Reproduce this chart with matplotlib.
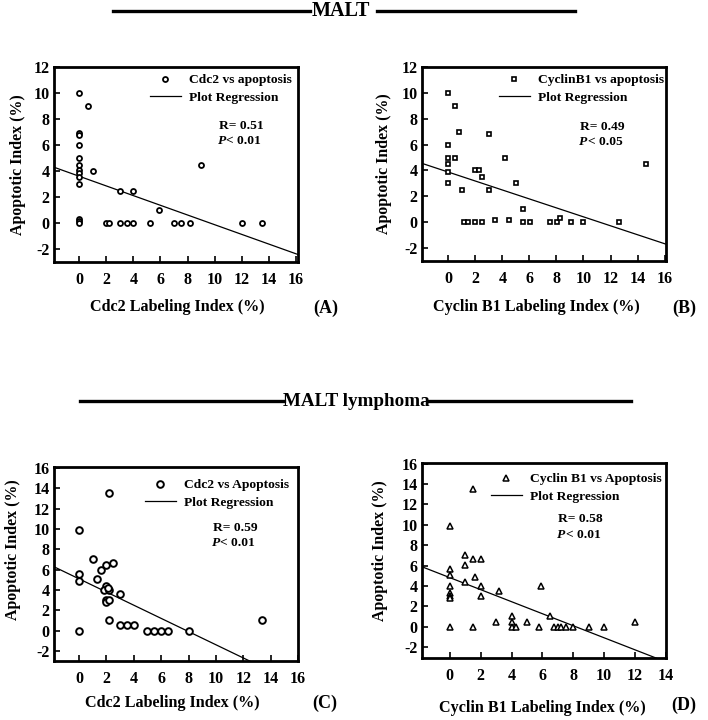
import matplotlib
matplotlib.use("Agg")
import matplotlib.pyplot as plt
from matplotlib.lines import Line2D
import numpy as np

plt.rcParams['font.family'] = ['Liberation Serif', 'DejaVu Serif']
plt.rcParams['font.weight'] = 'bold'

# ---------------- data ----------------
# (A) MALT: Cdc2 labeling index vs apoptotic index
a_x = [0, 0.63, 0, 0, 0, 0, 0, 0, 0, 0, 0, 0, 0, 0, 1.0, 3.0, 4.0, 9.0, 5.9,
       2.0, 2.2, 3.0, 3.5, 4.0, 5.2, 7.0, 7.5, 8.2, 12.0, 13.5]
a_y = [10.0, 9.0, 6.9, 6.75, 6.0, 5.0, 4.5, 4.05, 3.85, 3.55, 3.0, 0.34, 0.15, 0.0, 4.0, 2.5, 2.5, 4.5, 1.0,
       0, 0, 0, 0, 0, 0, 0, 0, 0, 0, 0]
a_reg = (3.6, -0.373)     # intercept, slope

# (B) MALT: Cyclin B1 labeling index vs apoptotic index
b_x = [0, 0.5, 0.8, 3.0, 0, 0, 0.5, 4.2, 0, 0, 2.0, 2.3, 2.5, 0, 5.0, 1.0, 3.0, 5.5, 14.6,
       1.15, 1.5, 2.0, 2.5, 3.5, 4.5, 5.55, 6.05, 7.55, 8.05, 8.25, 9.1, 10.0, 12.6]
b_y = [10.0, 9.0, 7.0, 6.8, 6.0, 5.0, 5.0, 5.0, 4.5, 3.9, 4.0, 4.0, 3.5, 3.0, 3.0, 2.5, 2.5, 1.0, 4.5,
       0, 0, 0, 0, 0.2, 0.2, 0, 0, 0, 0, 0.3, 0, 0, 0]
b_reg = (3.88, -0.3465)

# (C) MALT lymphoma: Cdc2 labeling index vs apoptotic index
c_x = [2.2, 0, 1.03, 2.0, 2.5, 1.6, 0, 0, 1.32, 2.0, 1.8, 2.2, 2.1, 3.0, 2.0, 2.0, 2.2, 2.2,
       0, 3.0, 3.5, 4.0, 5.0, 5.5, 6.0, 6.5, 8.0, 13.4]
c_y = [13.5, 9.85, 7.0, 6.5, 6.6, 6.0, 5.6, 4.85, 5.05, 4.4, 4.0, 4.0, 4.2, 3.55, 3.0, 2.8, 3.0, 1.0,
       0, 0.5, 0.5, 0.5, 0, 0, 0, 0, 0, 1.0]
c_reg = (5.09, -0.649)

# (D) MALT lymphoma: Cyclin B1 labeling index vs apoptotic index
d_x = [1.5, 0, 1.0, 1.0, 1.5, 2.0, 0, 0, 1.6, 1.0, 0, 2.0, 2.0, 0, 0, 0, 3.2, 5.9,
       3.0, 4.0, 4.0, 4.0, 4.3, 5.0, 0, 1.5, 5.8, 6.5, 6.75, 7.0, 7.2, 7.5, 8.0, 9.0, 10.0, 12.0]
d_y = [13.5, 9.85, 7.05, 6.05, 6.65, 6.6, 5.65, 5.05, 4.85, 4.4, 4.0, 4.0, 3.05, 3.3, 3.0, 2.85, 3.55, 4.0,
       0.5, 1.05, 0.5, 0, 0, 0.42, 0, 0, 0, 1.05, 0, 0, 0, 0, 0, 0, 0, 0.5]
d_reg = (4.82, -0.591)

W, H = 708, 720
fig = plt.figure(figsize=(W / 100, H / 100), dpi=100)


def fx(px):
    return px / W


def fy(py):
    return 1 - py / H


def make_axes(l, r, t, b):
    return fig.add_axes([fx(l), fy(b), (r - l) / W, (b - t) / H])


def style_axes(ax, xlim, ylim, xticks, yticks):
    ax.set_xlim(*xlim)
    ax.set_ylim(*ylim)
    ax.set_xticks(xticks)
    ax.set_yticks(yticks)
    ax.set_xticklabels([str(t) for t in xticks])
    ax.set_yticklabels([str(t) for t in yticks])
    for s in ax.spines.values():
        s.set_linewidth(2.0)
    ax.tick_params(axis='both', direction='in', length=4, width=1.2, labelsize=11.5)
    ax.tick_params(axis='x', pad=7)
    ax.tick_params(axis='y', pad=3)
    for lbl in ax.get_xticklabels() + ax.get_yticklabels():
        lbl.set_fontweight('bold')


def reg_line(ax, reg, xlim):
    xs = np.array(xlim)
    ax.plot(xs, reg[0] + reg[1] * xs, color='black', lw=0.9, label='Plot Regression')


panels = [
    dict(box=(54, 298, 67, 262), x=a_x, y=a_y, reg=a_reg, marker='o', ms=3.6, mew=1.3,
         xlim=(-1.85, 16.15), ylim=(-3, 12), xticks=list(range(0, 17, 2)), yticks=list(range(-2, 13, 2)),
         leg='Cdc2 vs apoptosis', leg_at=(150, 74), stats=(219, 126, 141, 'R= 0.51', '0.01'),
         xlabel='Cdc2 Labeling Index (%)', xl=(0.504, -0.231), yl=(-0.148, 0.50), tag=('(A)', 326, 308)),
    dict(box=(422, 666, 67, 261), x=b_x, y=b_y, reg=b_reg, marker='s', ms=3.4, mew=1.2,
         xlim=(-1.93, 16.1), ylim=(-3, 12), xticks=list(range(0, 17, 2)), yticks=list(range(-2, 13, 2)),
         leg='CyclinB1 vs apoptosis', leg_at=(499, 74), stats=(580, 127, 142, 'R= 0.49', '0.05'),
         xlabel='Cyclin B1 Labeling Index (%)', xl=(0.467, -0.237), yl=(-0.156, 0.50), tag=('(B)', 684, 308)),
    dict(box=(54, 298, 467, 661), x=c_x, y=c_y, reg=c_reg, marker='o', ms=4.8, mew=1.4,
         xlim=(-1.83, 16.0), ylim=(-3, 16.1), xticks=list(range(0, 17, 2)), yticks=list(range(-2, 17, 2)),
         leg='Cdc2 vs Apoptosis', leg_at=(145, 479), stats=(213, 528, 543, 'R= 0.59', '0.01'),
         xlabel='Cdc2 Labeling Index (%)', xl=(0.484, -0.216), yl=(-0.168, 0.572), tag=('(C)', 325, 703)),
    dict(box=(422, 666, 463, 658), x=d_x, y=d_y, reg=d_reg, marker='^', ms=4.4, mew=1.1,
         xlim=(-1.8, 14.0), ylim=(-3.07, 16.07), xticks=list(range(0, 15, 2)), yticks=list(range(-2, 17, 2)),
         leg='Cyclin B1 vs Apoptosis', leg_at=(491, 473), stats=(558, 519, 535, 'R= 0.58', '0.01'),
         xlabel='Cyclin B1 Labeling Index (%)', xl=(0.492, -0.256), yl=(-0.172, 0.549), tag=('(D)', 684, 705)),
]

for p in panels:
    ax = make_axes(*p['box'])
    ax.plot(p['x'], p['y'], linestyle='none', marker=p['marker'], ms=p['ms'], mew=p['mew'],
            mec='black', mfc='white', label=p['leg'], clip_on=False, zorder=3)
    reg_line(ax, p['reg'], p['xlim'])
    style_axes(ax, p['xlim'], p['ylim'], p['xticks'], p['yticks'])
    ax.set_xlabel(p['xlabel'], fontsize=11.6, fontweight='bold', va='center', ha='center')
    ax.xaxis.set_label_coords(*p['xl'])
    ax.set_ylabel('Apoptotic Index (%)', fontsize=11.4, fontweight='bold', va='center', ha='center')
    ax.yaxis.set_label_coords(*p['yl'])
    lx, ly = p['leg_at']
    ax.legend(loc='upper left', bbox_to_anchor=(fx(lx), fy(ly)), bbox_transform=fig.transFigure,
              frameon=False, handlelength=2.3, handletextpad=0.6,
              labelspacing=0.38, borderpad=0, borderaxespad=0,
              prop={'weight': 'bold', 'size': 9.7})
    sx, sy1, sy2, rtxt, ptxt = p['stats']
    fig.text(fx(sx), fy(sy1), rtxt, fontsize=9.7, fontweight='bold', va='center', ha='left')
    fig.text(fx(sx - 1), fy(sy2), 'P', fontsize=9.7, fontweight='bold', style='italic',
             va='center', ha='left')
    fig.text(fx(sx + 7.5), fy(sy2), '< ' + ptxt, fontsize=9.7, fontweight='bold',
             va='center', ha='left')
    tag, tx, ty = p['tag']
    fig.text(fx(tx), fy(ty), tag, fontsize=13, fontweight='bold', va='center', ha='center')


# section headers
def header(text, size, cx, cy, l1, l2):
    fig.text(fx(cx), fy(cy), text, fontsize=size, fontweight='bold', va='center', ha='center')
    for a, b in (l1, l2):
        fig.add_artist(Line2D([fx(a), fx(b)], [fy(cy), fy(cy)], color='black', lw=2.4,
                              transform=fig.transFigure))


header('MALT', 14.5, 341, 11, (113, 310), (377, 575))
header('MALT lymphoma', 13.7, 356, 401, (80, 284), (428, 631))

fig.savefig('out.png', dpi=100, facecolor='white')
